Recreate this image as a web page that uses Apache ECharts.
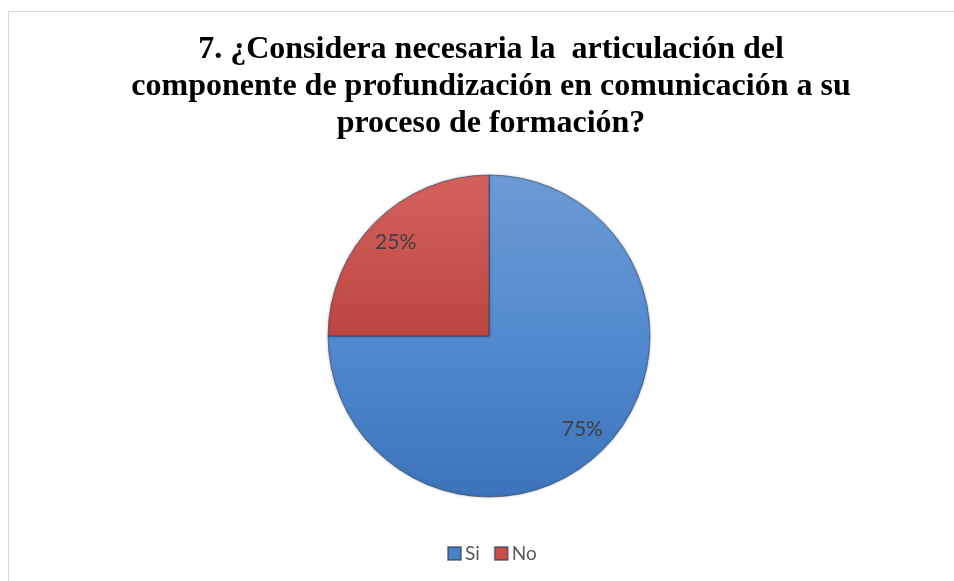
<!DOCTYPE html>
<html>
<head>
<meta charset="utf-8">
<script src="https://cdn.jsdelivr.net/npm/echarts@6/dist/echarts.min.js"></script>
<style>
html,body{margin:0;padding:0;background:#fff;overflow:hidden;}
#frame{position:absolute;left:8px;top:11px;width:960px;height:580px;border-top:1px solid #d9d9d9;border-left:1px solid #d9d9d9;}
#chart{position:absolute;left:0;top:0;width:954px;height:581px;}
</style>
</head>
<body>
<div id="frame"></div>
<div id="chart"></div>
<script>
const titleLines = [
  "7. ¿Considera necesaria la  articulación del",
  "componente de profundización en comunicación a su",
  "proceso de formación?"
];
const categories = ["Si", "No"];
const values = [75, 25];
const labels = ["75%", "25%"];

const colors = [
  {type:'linear',x:0,y:0,x2:0,y2:1,colorStops:[{offset:0,color:'#6d9ad5'},{offset:0.5,color:'#528acf'},{offset:1,color:'#3c73ba'}]},
  {type:'linear',x:0,y:0,x2:0,y2:1,colorStops:[{offset:0,color:'#d3625e'},{offset:1,color:'#bd4541'}]}
];
const legendColors = ['#4a80c4', '#c84e4a'];

const data = categories.map((c,i)=>({name:c,value:values[i],itemStyle:{color:colors[i]}}));
const labelData = categories.map((c,i)=>({name:c,value:values[i],label:{formatter:labels[i]}}));

const chart = echarts.init(document.getElementById('chart'));
chart.setOption({
  animation:false,
  backgroundColor:'transparent',
  title:{
    text:titleLines.join('\n'),
    top:26,
    textAlign:'center',
    left:486,
    textStyle:{fontFamily:'Liberation Serif',fontWeight:'bold',fontSize:32,lineHeight:37,color:'#000'}
  },
  legend:{
    data:categories.map((c,i)=>({name:c,itemStyle:{color:legendColors[i]}})),
    left:442,
    top:539,
    icon:'rect',
    itemWidth:13,
    itemHeight:13,
    itemGap:14,
    textStyle:{fontFamily:'Lato',fontSize:19,color:'#595959',padding:[0,0,0,-1]}
  },
  series:[
    {
      type:'pie',
      center:[489,336],
      radius:[0,161],
      startAngle:90,
      clockwise:true,
      data:data,
      label:{show:false},
      labelLine:{show:false},
      itemStyle:{borderColor:'rgba(40,60,90,0.55)',borderWidth:1,shadowBlur:3,shadowColor:'rgba(0,0,0,0.25)'},
      emphasis:{disabled:true}
    },
    {
      type:'pie',
      center:[489,336],
      radius:[97,161],
      startAngle:90,
      clockwise:true,
      silent:true,
      legendHoverLink:false,
      data:labelData,
      itemStyle:{color:'rgba(0,0,0,0)',borderWidth:0},
      label:{show:true,position:'inside',fontFamily:'Lato',fontSize:21,color:'#404040'},
      labelLine:{show:false},
      emphasis:{disabled:true}
    }
  ]
});
</script>
</body>
</html>
